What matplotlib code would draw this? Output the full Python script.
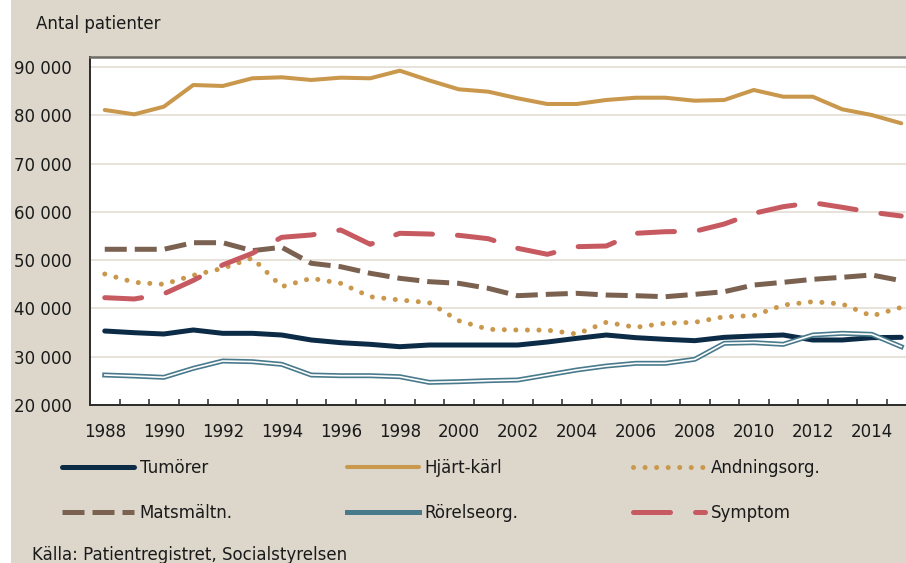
import matplotlib
matplotlib.use("Agg")
import matplotlib.pyplot as plt
import numpy as np
from matplotlib.patches import Rectangle
from matplotlib.ticker import FuncFormatter, MultipleLocator

plt.rcParams['font.family'] = ['DejaVu Sans']

# ---------------------- data ----------------------
years = list(range(1988, 2016))

tumorer = [35320, 34970, 34700, 35530, 34840, 34840, 34490, 33460, 32900, 32560,
           32070, 32420, 32420, 32420, 32420, 33040, 33800, 34490, 33940, 33600,
           33320, 34010, 34280, 34490, 33460, 33460, 33940, 34010]
hjart_karl = [81080, 80180, 81760, 86250, 86050, 87640, 87850, 87290, 87770, 87640,
              89220, 87200, 85360, 84870, 83500, 82320, 82320, 83150, 83620, 83620,
              83000, 83150, 85220, 83830, 83830, 81220, 80040, 78320]
andning = [47120, 45400, 44990, 46850, 48300, 50430, 44500, 46230, 45190, 42420,
           41740, 41180, 37450, 35670, 35530, 35500, 34700, 37120, 36090, 36920,
           37120, 38280, 38500, 40700, 41390, 40910, 38430, 40220]
matsmaltn = [52240, 52240, 52240, 53600, 53600, 51950, 52650, 49340, 48630, 47270,
             46230, 45530, 45190, 44160, 42630, 42910, 43120, 42770, 42630, 42420,
             42910, 43460, 44840, 45400, 46020, 46440, 46920, 45740]
rorelse = [26210, 26000, 25730, 27590, 29110, 28970, 28420, 26210, 26070, 26070,
           25860, 24690, 24830, 25040, 25180, 26210, 27250, 28070, 28630, 28630,
           29460, 32770, 32900, 32560, 34490, 34840, 34630, 32070]
symptom = [42220, 41950, 43000, 45800, 49000, 51400, 54720, 55200, 56230, 53270,
           55550, 55400, 55130, 54430, 52440, 51200, 52780, 52920, 55550, 55880,
           55960, 57470, 59680, 61060, 61890, 60930, 59900, 59130]

colors = {
    "navy": "#0B2B47",
    "gold": "#C9984C",
    "brown": "#7A6150",
    "teal": "#497A8C",
    "red": "#C75A61",
    "bg": "#DCD6CB",
    "grid": "#E6E0D7",
}

# ---------------------- figure ----------------------
W, H = 906, 563
fig = plt.figure(figsize=(W / 100, H / 100), dpi=100, facecolor=colors["bg"])
fig.patches.append(Rectangle((0, 0), 11 / W, 1, transform=fig.transFigure,
                             facecolor="white", edgecolor="none", zorder=0))

# plot area runs past the right edge of the picture (cropped)
ax = fig.add_axes([90 / W, 158 / H, 826 / W, 348 / H])
ax.set_facecolor("white")

l_tum, = ax.plot(years, tumorer, color=colors["navy"], lw=3.6,
                 solid_capstyle="round", solid_joinstyle="round", label="Tumörer")
l_hk, = ax.plot(years, hjart_karl, color=colors["gold"], lw=2.9,
                solid_capstyle="round", solid_joinstyle="round", label="Hjärt-kärl")
l_and, = ax.plot(years, andning, color=colors["gold"], lw=3.6,
                 ls=(0, (0.01, 2.3)), dash_capstyle="round", label="Andningsorg.")
l_mat, = ax.plot(years, matsmaltn, color=colors["brown"], lw=3.6,
                 ls=(0, (4.4, 1.6)), dash_capstyle="butt", label="Matsmältn.")
l_ror, = ax.plot(years, rorelse, color=colors["teal"], lw=3.6,
                 solid_joinstyle="round", label="Rörelseorg.")
ax.plot(years, rorelse, color="white", lw=1.2, solid_joinstyle="round")
l_sym, = ax.plot(years, symptom, color=colors["red"], lw=3.6,
                 ls=(0, (7.4, 5.0)), dash_capstyle="round", label="Symptom")

ax.set_xlim(1987.5, 2015.5)
ax.set_ylim(20000, 92050)

ax.yaxis.set_major_locator(MultipleLocator(10000))
ax.yaxis.set_major_formatter(FuncFormatter(lambda v, p: f"{int(v):,}".replace(",", " ")))
ax.grid(axis="y", color=colors["grid"], lw=1.3)
ax.set_axisbelow(True)
ax.tick_params(axis="y", length=0, pad=13, labelsize=12, labelcolor="#1A1A1A")

ax.set_xticks(years[::2])
ax.set_xticks([y + 0.5 for y in years], minor=True)
ax.tick_params(axis="x", which="major", length=0, pad=13, labelsize=12,
               labelcolor="#1A1A1A")
ax.tick_params(axis="x", which="minor", direction="in", length=4, width=1.1,
               color="#2A2A2A")

for side in ["left", "bottom"]:
    ax.spines[side].set_color("#2A2A2A")
    ax.spines[side].set_linewidth(1.4)
ax.spines["top"].set_color("#6E6C67")
ax.spines["top"].set_linewidth(1.8)
ax.spines["right"].set_visible(False)

# ---------------------- legend (three columns) ----------------------
cols = [[l_tum, l_mat], [l_hk, l_ror], [l_and, l_sym]]
col_x = [62, 347, 633]
for hs, x0 in zip(cols, col_x):
    fig.legend(handles=hs, loc="upper left", bbox_to_anchor=(x0 / W, 1 - 459 / H),
               frameon=False, fontsize=12, handlelength=4.3, handletextpad=0.35,
               labelspacing=1.6, borderpad=0, borderaxespad=0,
               labelcolor="#1A1A1A")

fig.text(36 / W, 1 - 24 / H, "Antal patienter", fontsize=12, color="#1A1A1A",
         ha="left", va="center")
fig.text(32 / W, 8 / H, "Källa: Patientregistret, Socialstyrelsen", fontsize=12,
         color="#1A1A1A", ha="left", va="center")

fig.savefig("out.png", dpi=100, facecolor=fig.get_facecolor())
